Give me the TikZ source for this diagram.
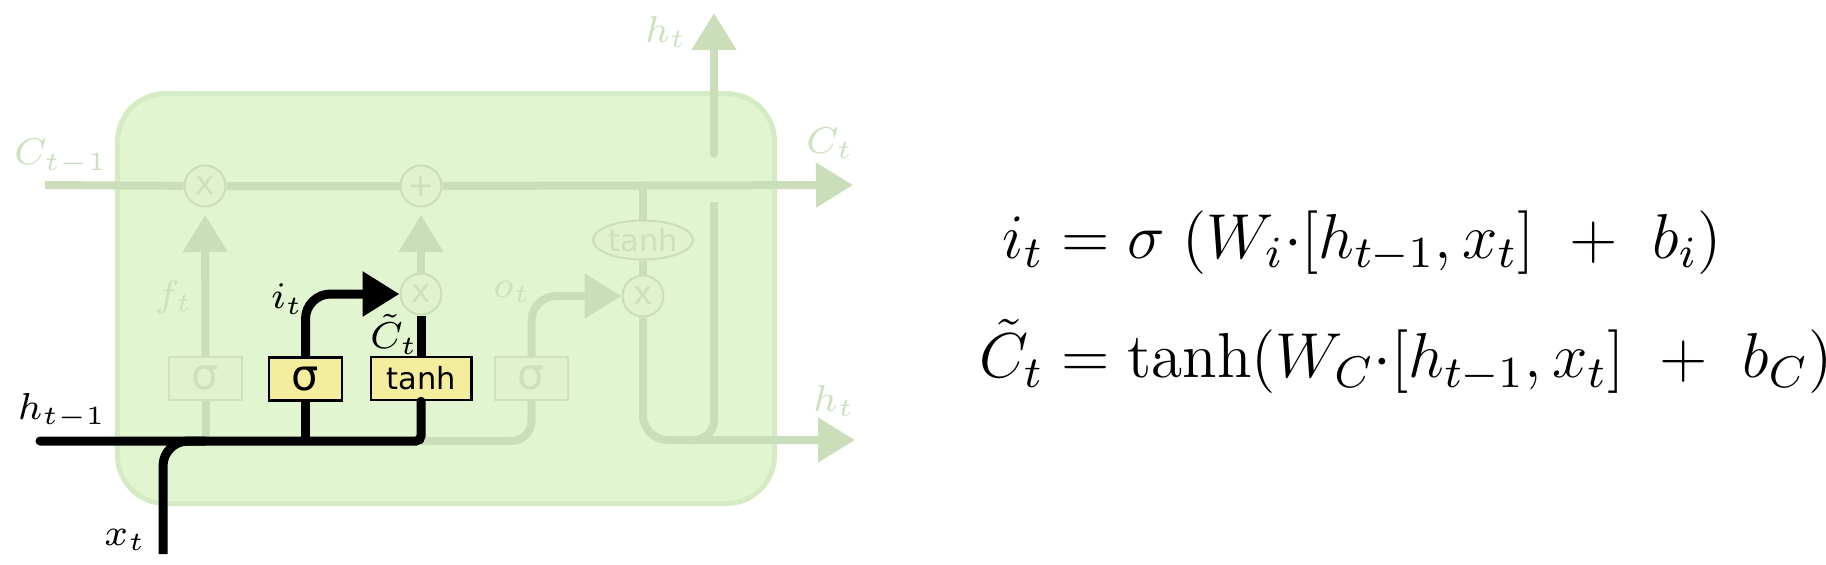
\RequirePackage{fix-cm}
\documentclass[tikz,border=0pt]{standalone}
\usepackage{amsmath}
\usepackage{fontspec}
\newfontfamily\gatefont{DejaVu Sans}
\usetikzlibrary{arrows.meta,shapes.geometric}
\definecolor{cellfill}{RGB}{224,245,208}
\definecolor{cellrim}{RGB}{213,235,196}
\definecolor{fadeline}{RGB}{203,222,186}
\definecolor{fadefill}{RGB}{226,241,206}
\definecolor{fadetext}{RGB}{206,225,190}
\definecolor{gateyellow}{RGB}{245,237,158}

\begin{document}
\begin{tikzpicture}[x=0.2pt, y=-0.2pt, cell/.style = {draw=cellrim, fill=cellfill, line width=1pt, rounded corners=9.6pt, minimum width=131.4pt, minimum height=82pt}, wire/.style = {draw=fadeline, line width=1.6pt}, hwire/.style = {draw=black, line width=1.8pt}, flow/.style = {-{Triangle[length=7.4pt,width=8.6pt]}}, lab/.style = {font=\fontsize{7.5}{9}\selectfont}, faint/.style = {lab, text=fadetext}, op/.style = {circle, draw=fadeline, fill=fadefill, line width=0.4pt, minimum size=8.2pt, inner sep=0pt, text=fadetext, font=\gatefont\fontsize{6.5}{7}\selectfont}, gate/.style = {rectangle, draw=fadeline!70!cellrim, fill=fadefill, line width=0.4pt, minimum width=14.6pt, minimum height=8.6pt, inner sep=0pt, text=fadetext, font=\gatefont\fontsize{8.6}{9}\selectfont}, hot/.style = {gate, draw=black, fill=gateyellow, text=black, line width=0.5pt}, oval/.style = {ellipse, draw=fadeline, fill=fadefill, line width=0.4pt, minimum width=20pt, minimum height=7.8pt, inner sep=0pt, text=fadetext, font=\gatefont\fontsize{6.1}{7}\selectfont}]
\useasboundingbox (0,0) rectangle (1826,564);
\node[cell] (cell) at (446,298.5) {};
\node[op] (fx) at (205,186) {x};
\node[op] (add) at (421,186) {+};
\node[op] (ix) at (421,294) {x};
\node[op] (ox) at (643,296) {x};
\node[gate] (fsig) at (205.5,378.5) {σ};
\node[hot] (isig) at (305.5,379) {σ};
\node[hot, minimum width=20.1pt, font=\gatefont\fontsize{6.1}{7}\selectfont] (itanh) at (421,378.5) {tanh};
\node[gate] (osig) at (531.5,378.5) {σ};
\node[oval] (otanh) at (643,240) {tanh};
\coordinate (cin) at (45,185);
\coordinate (cout) at (853,185);
\coordinate (ctap) at (643,185);
\coordinate (hin) at (40,441);
\coordinate (hout) at (855,440);
\coordinate (xin) at (163,554);
\coordinate (hfoot) at (714,154);
\coordinate (hup) at (714,13);
\coordinate (hdrop) at (714,202);
\coordinate (hjoin) at (690,440);
% cell state and faded gates
\draw[wire] (cin) -- (fx) (fx) -- (add);
\draw[wire, flow] (add) -- (cout);
\draw[wire, flow, shorten >=1.5pt] (fsig) -- (fx);
\draw[wire, flow, shorten >=1.5pt] (ix) -- (add);
\draw[wire] (fsig.south) -- (fsig.south |- hin);
\draw[wire, rounded corners=4pt] (itanh.south |- hin) -| (osig.south);
\draw[wire, flow, rounded corners=5pt] (osig.north) |- (ox.west);
\draw[wire] (ctap) -- (otanh);
\draw[wire] (otanh) -- (ox);
\draw[wire, flow, rounded corners=5pt] (ox.south) |- (hout);
\draw[wire, flow, line cap=round] (hfoot) -- (hup);
\draw[wire, rounded corners=4pt] (hdrop) |- (hjoin);
% input gate path
\draw[hwire, line cap=round, rounded corners=1pt] (hin) -| (itanh.south);
\draw[hwire, rounded corners=5pt] (xin) |- (fsig.south |- hin);
\draw[hwire] (isig.south) -- (isig.south |- hin);
\draw[hwire, flow, rounded corners=5pt] (isig.north) |- (ix.west);
\draw[hwire] (itanh.north) -- (ix.south);
\node[faint] (cprev) at (61,157) {$C_{t-1}$};
\node[faint] (ft) at (174,297) {$f_t$};
\node[faint] (ot) at (512,292) {$o_t$};
\node[faint] (htop) at (666,32) {$h_t$};
\node[faint] (cnext) at (830,143) {$C_t$};
\node[faint] (hnext) at (834,401) {$h_t$};
\node[lab] (hprev) at (62,411) {$h_{t-1}$};
\node[lab] (xt) at (125,540) {$x_t$};
\node[lab] (it) at (287,299) {$i_t$};
\node[lab] (ct) at (394,334) {$\tilde{C}_t$};
\node[anchor=west, font=\fontsize{12.7}{14.5}\selectfont] (eqs) at (962,303.5) {$\begin{aligned} i_t &= \sigma\;(W_i{\cdot}[h_{t-1},x_t]\ +\ b_i)\\[4pt] \tilde{C}_t &= \tanh(W_C{\cdot}[h_{t-1},x_t]\ +\ b_C)\end{aligned}$};
\end{tikzpicture}
\end{document}
